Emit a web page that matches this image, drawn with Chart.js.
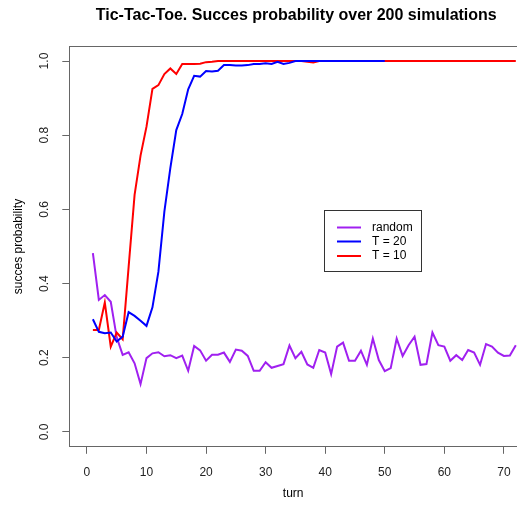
<!DOCTYPE html>
<html><head><meta charset="utf-8">
<script src="https://cdn.jsdelivr.net/npm/chart.js@4/dist/chart.umd.min.js"></script>
<style>html,body{margin:0;padding:0;background:#fff;overflow:hidden}canvas{display:block}</style>
</head><body>
<canvas id="c" width="517" height="515"></canvas>
<script>
const turns = [1,2,3,4,5,6,7,8,9,10,11,12,13,14,15,16,17,18,19,20,21,22,23,24,25,26,27,28,29,30,31,32,33,34,35,36,37,38,39,40,41,42,43,44,45,46,47,48,49,50,51,52,53,54,55,56,57,58,59,60,61,62,63,64,65,66,67,68,69,70,71,72];
const randomVals = [0.482,0.356,0.369,0.351,0.255,0.208,0.215,0.185,0.129,0.199,0.212,0.215,0.204,0.207,0.199,0.206,0.165,0.232,0.220,0.192,0.208,0.208,0.214,0.189,0.222,0.219,0.205,0.165,0.165,0.188,0.173,0.178,0.183,0.233,0.199,0.216,0.182,0.173,0.221,0.214,0.156,0.230,0.241,0.192,0.192,0.219,0.181,0.252,0.194,0.164,0.172,0.252,0.205,0.234,0.257,0.181,0.183,0.268,0.234,0.230,0.192,0.207,0.194,0.221,0.214,0.181,0.237,0.230,0.214,0.205,0.206,0.234];
const t20Vals = [0.304,0.270,0.266,0.268,0.244,0.257,0.323,0.313,0.300,0.286,0.336,0.432,0.594,0.711,0.814,0.857,0.924,0.960,0.958,0.973,0.972,0.974,0.989,0.989,0.988,0.988,0.989,0.992,0.992,0.994,0.992,0.998,0.992,0.995,1.0,1.0,1.0,1.0,1.0,1.0,1.0,1.0,1.0,1.0,1.0,1.0,1.0,1.0,1.0,1.0];
const t10Vals = [0.275,0.275,0.349,0.230,0.268,0.250,0.445,0.639,0.745,0.823,0.925,0.935,0.965,0.980,0.965,0.992,0.992,0.992,0.993,0.997,0.998,1.0,1.0,1.0,1.0,1.0,1.0,1.0,1.0,1.0,1.0,1.0,1.0,1.0,1.0,1.0,0.998,0.996,1.0,1.0,1.0,1.0,1.0,1.0,1.0,1.0,1.0,1.0,1.0,1.0,1.0,1.0,1.0,1.0,1.0,1.0,1.0,1.0,1.0,1.0,1.0,1.0,1.0,1.0,1.0,1.0,1.0,1.0,1.0,1.0,1.0,1.0];
const seriesLabels = ['random', 'T = 20', 'T = 10'];
const seriesColors = ['#A020F0', '#0000FF', '#FF0000'];
const xTicks = [0, 10, 20, 30, 40, 50, 60, 70];
const yTicks = [0, 0.2, 0.4, 0.6, 0.8, 1.0];
const titleText = 'Tic-Tac-Toe. Succes probability over 200 simulations';
const xTitle = 'turn';
const yTitle = 'succes probability';

const FF = "'Liberation Sans', Arial, sans-serif";
const AXIS_COL = '#666';

function pts(vals) { return vals.map((v, i) => ({ x: turns[i], y: v })); }

const boxPlugin = {
  id: 'box',
  afterLayout(chart) {
    const tb = chart.titleBlock;
    if (tb) { tb.left += 3.1; tb.right += 3.1; }
  },
  beforeDatasetsDraw(chart) {
    const { ctx, chartArea: a } = chart;
    ctx.save();
    ctx.strokeStyle = AXIS_COL;
    ctx.lineWidth = 1;
    ctx.beginPath();
    const y = Math.round(a.top) + 0.5;
    ctx.moveTo(Math.round(a.left), y);
    ctx.lineTo(a.right + 5, y);
    ctx.stroke();
    ctx.restore();
  }
};

const legendPlugin = {
  id: 'rlegend',
  afterDatasetsDraw(chart) {
    const ctx = chart.ctx;
    ctx.save();
    ctx.fillStyle = '#fff';
    ctx.fillRect(324.5, 210.5, 97, 61);
    ctx.strokeStyle = '#333';
    ctx.lineWidth = 1;
    ctx.strokeRect(324.5, 210.5, 97, 61);
    ctx.font = '12px ' + FF;
    ctx.textBaseline = 'middle';
    ctx.textAlign = 'left';
    const rows = [227.5, 241.5, 256];
    chart.data.datasets.forEach((ds, i) => {
      ctx.strokeStyle = ds.borderColor;
      ctx.lineWidth = 2;
      ctx.beginPath();
      ctx.moveTo(337, rows[i]);
      ctx.lineTo(361, rows[i]);
      ctx.stroke();
      ctx.fillStyle = '#000';
      ctx.fillText(ds.label, 372, rows[i]);
    });
    ctx.restore();
  }
};

new Chart(document.getElementById('c'), {
  type: 'line',
  data: {
    datasets: [
      { label: seriesLabels[0], data: pts(randomVals), borderColor: seriesColors[0], order: 3 },
      { label: seriesLabels[1], data: pts(t20Vals), borderColor: seriesColors[1], order: 1 },
      { label: seriesLabels[2], data: pts(t10Vals), borderColor: seriesColors[2], order: 2 }
    ]
  },
  options: {
    responsive: false,
    animation: false,
    devicePixelRatio: 1,
    layout: { padding: 0 },
    elements: {
      line: { borderWidth: 2, tension: 0, fill: false },
      point: { radius: 0, hoverRadius: 0 }
    },
    plugins: {
      legend: { display: false },
      tooltip: { enabled: false },
      title: {
        display: true, text: titleText, fullSize: false, color: '#000',
        font: { family: FF, size: 16, weight: 'bold' },
        padding: { top: 5.9, bottom: 21.1 }
      }
    },
    scales: {
      x: {
        type: 'linear', min: -2.96, max: 72.2,
        afterBuildTicks: s => { s.ticks = xTicks.map(v => ({ value: v })); },
        afterFit: s => { s.height = 68.2; s.paddingLeft = 0; s.paddingRight = 0; },
        ticks: { autoSkip: false, maxRotation: 0, padding: 12, color: '#222', font: { family: FF, size: 12 }, callback: v => String(v) },
        grid: { drawOnChartArea: false, drawTicks: true, tickLength: 7, color: AXIS_COL },
        border: { display: true, color: AXIS_COL, width: 1 },
        title: { display: true, text: xTitle, color: '#000', font: { family: FF, size: 12 }, padding: { top: 0, bottom: 14.3 } }
      },
      y: {
        type: 'linear', min: -0.04, max: 1.04,
        afterBuildTicks: s => { s.ticks = yTicks.map(v => ({ value: v })); },
        afterFit: s => { s.width = 69.3; s.paddingTop = 0; s.paddingBottom = 0; },
        ticks: { autoSkip: false, minRotation: 90, maxRotation: 90, crossAlign: 'center', padding: 9, color: '#222', font: { family: FF, size: 12 }, callback: v => v.toFixed(1) },
        grid: { drawOnChartArea: false, drawTicks: true, tickLength: 7, color: AXIS_COL },
        border: { display: true, color: AXIS_COL, width: 1 },
        title: { display: true, text: yTitle, color: '#000', font: { family: FF, size: 12 }, padding: { top: 11, bottom: 0 } }
      }
    }
  },
  plugins: [boxPlugin, legendPlugin]
});
</script>
</body></html>
